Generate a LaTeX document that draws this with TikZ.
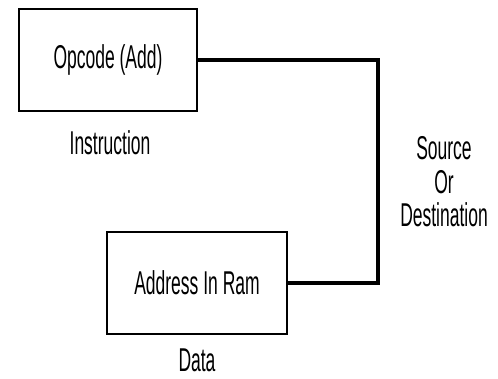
\documentclass[tikz,border=0pt]{standalone}
\usepackage{fontspec}
\setmainfont{Liberation Sans}[FakeStretch=0.53]
\usetikzlibrary{positioning}

\tikzset{
  unitbox/.style = {draw = black, line width = 2.5pt, minimum width = 178pt, minimum height = 102pt, inner sep = 0pt},
  bus/.style = {draw = black, line width = 4.5pt, line join = miter},
  caption/.style = {font = \fontsize{33}{36}\selectfont, inner sep = 0pt}
}

\begin{document}
\begin{tikzpicture}[x = 1pt, y = -1pt]
	\useasboundingbox (0, 0) rectangle (498, 379);
	\node [unitbox, caption] (opc) at (108, 60) {Opcode (Add)};
	\node [unitbox, caption, minimum width = 180pt] (addr) at (197, 283) {Address In Ram};
	\node [caption] (instr) at (110, 143) {Instruction};
	\node [caption] (data) at (197, 360) {Data};
	\node [caption] (src) at (444, 148) {Source};
	\node [caption] (or) at (444, 182) {Or};
	\node [caption] (dest) at (444, 215) {Destination};
	\coordinate (bend) at (378, 0);
	\draw [bus] (opc.east) -- (opc.east -| bend) -- (bend |- addr.east) -- (addr.east);
\end{tikzpicture}
\end{document}
